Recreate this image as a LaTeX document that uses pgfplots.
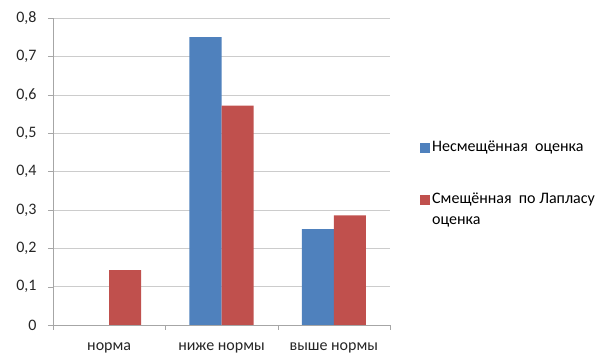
\documentclass[border=0pt]{standalone}
\usepackage{pgfplots}
\pgfplotsset{compat=1.18}
\usepackage{fontspec}
\setmainfont{Carlito}
\definecolor{cblue}{HTML}{4F81BD}
\definecolor{cred}{HTML}{C0504D}
\begin{document}
\fontsize{16pt}{21pt}\selectfont
\begin{tikzpicture}
\path[use as bounding box] (0,0) rectangle (605pt,353pt);
\begin{axis}[
  at={(53pt,28pt)}, anchor=south west,
  scale only axis, width=337pt, height=307pt,
  ymin=0, ymax=0.8, xmin=-0.5, xmax=2.5,
  ybar=0pt, bar width=32pt,
  axis x line*=bottom, axis y line*=left,
  axis line style={-, draw=gray!70},
  ymajorgrids, grid style={draw=gray!40},
  ytick={0,0.1,0.2,0.3,0.4,0.5,0.6,0.7,0.8},
  yticklabel style={/pgf/number format/use comma, /pgf/number format/fixed, /pgf/number format/precision=1, /tikz/xshift=-6pt},
  /pgf/number format/assume math mode=true,
  ticklabel style={font=\fontsize{16pt}{19pt}\selectfont, text=black!85},
  tick align=outside, major tick length=5pt, minor tick length=5pt,
  tick style={draw=gray!70},
  xtick={0,1,2}, xticklabels={норма,ниже нормы,выше нормы},
  major x tick style={draw=none},
  minor xtick={-0.5,0.5,1.5,2.5},
  xticklabel style={yshift=-7pt},
  legend style={at={(1.089,0.458)}, anchor=west, draw=none, inner sep=0pt,
    row sep=35pt, font=\fontsize{16pt}{21pt}\selectfont, cells={align=left, xshift=2pt}},
  legend cell align=left,
]
\addplot[fill=cblue, draw=none,
  legend image code/.code={\fill[cblue] (0pt,-5pt) rectangle (10pt,5pt);}]
  coordinates {(1,0.75) (2,0.25)};
\addplot[fill=cred, draw=none,
  legend image code/.code={\fill[cred] (0pt,5.5pt) rectangle (10pt,15.5pt);}]
  coordinates {(0,0.142857) (1,0.571429) (2,0.285714)};
\addlegendentry{Несмещённая\ \ оценка}
\addlegendentry{Смещённая\ \ по Лапласу\\оценка}
\end{axis}
\end{tikzpicture}
\end{document}
